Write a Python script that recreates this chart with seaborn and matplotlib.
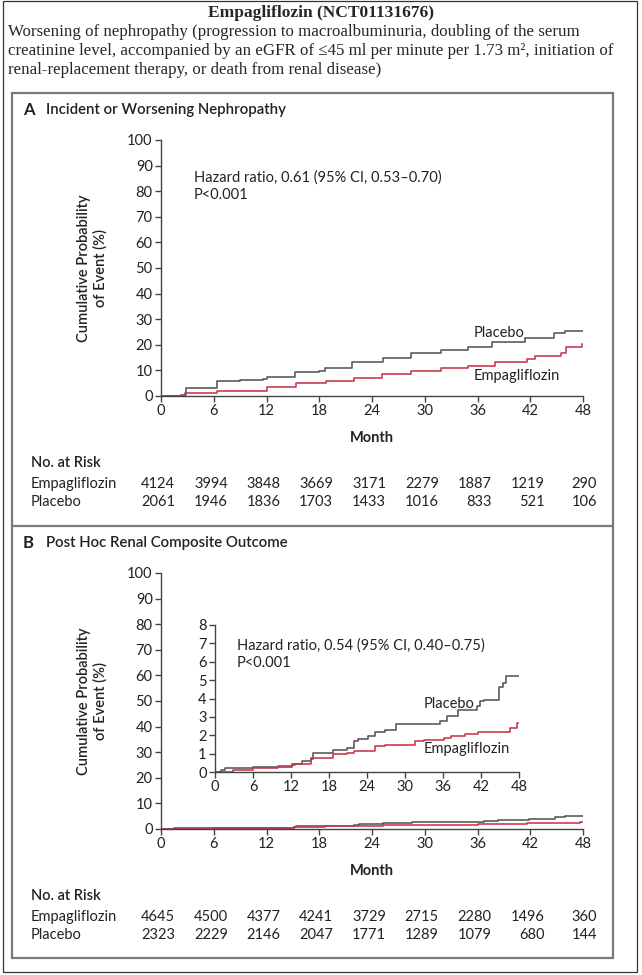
import numpy as np
import pandas as pd
import matplotlib
matplotlib.use("Agg")
import matplotlib.pyplot as plt
import seaborn as sns
from matplotlib.patches import Rectangle
from matplotlib.lines import Line2D

# ---- data ----
month_ticks = [0, 6, 12, 18, 24, 30, 36, 42, 48]

# panel A: incident or worsening nephropathy (step points, month -> %)
a_months_placebo = [0, 2.3, 2.9, 4.5, 6.4, 9.0, 11.6, 12.1, 15.2, 18.0, 18.6, 21.7,
                    25.3, 28.4, 31.8, 34.9, 37.7, 41.4, 44.7, 45.9, 48]
a_placebo = [0, 0.4, 3.0, 3.2, 6.0, 6.2, 6.6, 7.5, 9.2, 9.6, 11.0, 13.4,
             15.0, 16.7, 18.0, 19.3, 21.2, 22.5, 24.5, 25.5, 25.5]
a_months_empa = [0, 2.7, 6.4, 12.1, 15.4, 18.8, 21.9, 25.1, 28.4, 31.8, 34.9,
                 38.0, 41.6, 42.5, 45.5, 46.1, 47.9, 48]
a_empa = [0, 1.0, 2.0, 3.6, 5.0, 6.0, 7.2, 8.4, 9.8, 11.0, 11.8,
          13.2, 14.3, 15.6, 16.7, 19.3, 20.2, 20.2]

# panel B: post hoc renal composite outcome
b_months_placebo = [0, 0.9, 1.5, 6.0, 12.1, 13.7, 15.1, 15.4, 18.7, 20.8, 21.9, 22.5,
                    24.1, 25.2, 26.8, 28.5, 35.6, 36.7, 38.3, 41.3, 41.9, 42.4,
                    44.8, 45.4, 45.9, 48]
b_placebo = [0, 0.13, 0.2, 0.27, 0.45, 0.58, 0.76, 1.03, 1.21, 1.3, 1.67, 1.81,
             1.94, 2.15, 2.3, 2.6, 2.75, 3.06, 3.35, 3.57, 3.84, 3.93,
             4.6, 4.87, 5.25, 5.25]
b_months_empa = [0, 2.8, 6.0, 10.0, 12.1, 12.6, 15.1, 15.4, 18.7, 20.8, 21.9, 24.4,
                 25.2, 26.8, 31.5, 33.0, 36.1, 37.2, 39.4, 41.6, 46.5, 47.7, 48]
b_empa = [0, 0.09, 0.2, 0.3, 0.4, 0.45, 0.72, 0.76, 0.98, 1.03, 1.12, 1.16,
          1.39, 1.45, 1.67, 1.72, 1.83, 1.97, 2.08, 2.17, 2.39, 2.66, 2.66]

# numbers at risk
a_risk_empa = [4124, 3994, 3848, 3669, 3171, 2279, 1887, 1219, 290]
a_risk_placebo = [2061, 1946, 1836, 1703, 1433, 1016, 833, 521, 106]
b_risk_empa = [4645, 4500, 4377, 4241, 3729, 2715, 2280, 1496, 360]
b_risk_placebo = [2323, 2229, 2146, 2047, 1771, 1289, 1079, 680, 144]

colors = {"Empagliflozin": "#c8334b", "Placebo": "#555555"}

sns.set_theme(style="ticks")
plt.rcParams["font.family"] = ["Lato", "DejaVu Sans"]

W, H = 642, 975
fig = plt.figure(figsize=(W / 100, H / 100), dpi=100)
fig.patch.set_facecolor("white")


def fx(x):
    return x / W


def fy(y):
    return 1 - y / H


def px_axes(left, top, right, bottom):
    return fig.add_axes([fx(left), fy(bottom), (right - left) / W, (bottom - top) / H])


def long_df(mp, vp, me, ve):
    d1 = pd.DataFrame({"month": mp, "pct": vp, "group": "Placebo"})
    d2 = pd.DataFrame({"month": me, "pct": ve, "group": "Empagliflozin"})
    return pd.concat([d1, d2], ignore_index=True)


def style_axes(ax, ymax, ystep):
    ax.set_xlim(0, 48)
    ax.set_ylim(0, ymax)
    ax.set_xticks(month_ticks)
    ax.set_yticks(np.arange(0, ymax + 0.1, ystep))
    ax.set_facecolor("none")
    sns.despine(ax=ax)
    for s in ["left", "bottom"]:
        ax.spines[s].set_color("#444444")
        ax.spines[s].set_linewidth(1.0)
    ax.tick_params(direction="out", length=4, width=1.0, color="#444444",
                   labelsize=10.5, labelcolor="#222222", pad=2)
    ax.set_xlabel("")
    ax.set_ylabel("")


def draw_curves(ax, df):
    sns.lineplot(data=df, x="month", y="pct", hue="group", palette=colors,
                 estimator=None, drawstyle="steps-post", legend=False,
                 linewidth=1.15, ax=ax)


# ---- frames ----
fig.add_artist(Rectangle((fx(3), fy(972)), fx(637) - fx(3), fy(1) - fy(972),
                         transform=fig.transFigure, fill=False, ec="#333333", lw=0.9))
fig.add_artist(Rectangle((fx(12), fy(958)), fx(613) - fx(12), fy(93) - fy(958),
                         transform=fig.transFigure, fill=False, ec="#7a7a7a", lw=1.6))
fig.add_artist(Line2D([fx(12), fx(613)], [fy(526), fy(526)],
                      transform=fig.transFigure, color="#7a7a7a", lw=1.6))

# ---- header ----
serif = ["Liberation Serif", "DejaVu Serif"]
fig.text(fx(321), fy(13), "Empagliflozin (NCT01131676)", family=serif,
         fontsize=12.5, fontweight="bold", ha="center", va="center")
sub_lines = [
    "Worsening of nephropathy (progression to macroalbuminuria, doubling of the serum",
    "creatinine level, accompanied by an eGFR of \u226445 ml per minute per 1.73 m\u00b2, initiation of",
    "renal-replacement therapy, or death from renal disease)",
]
for i, line in enumerate(sub_lines):
    fig.text(fx(8), fy(32 + i * 19), line, family=serif, fontsize=12.2,
             ha="left", va="center")

# ---- panels ----
panels = [
    ("A", "Incident or Worsening Nephropathy", 0,
     long_df(a_months_placebo, a_placebo, a_months_empa, a_empa),
     a_risk_empa, a_risk_placebo),
    ("B", "Post Hoc Renal Composite Outcome", 433,
     long_df(b_months_placebo, b_placebo, b_months_empa, b_empa),
     b_risk_empa, b_risk_placebo),
]

for letter, title, off, df, risk_e, risk_p in panels:
    fig.text(fx(23), fy(110 + off), letter, fontsize=12, fontweight="bold",
             ha="left", va="center", color="#222222")
    fig.text(fx(46), fy(110 + off), title, fontsize=10.8, fontweight="semibold",
             ha="left", va="center", color="#222222")

    ax = px_axes(161, 140 + off, 583, 396 + off)
    draw_curves(ax, df)
    style_axes(ax, 100, 10)

    fig.text(fx(92), fy(268 + off), "Cumulative Probability\nof Event (%)",
             rotation=90, fontsize=10.5, fontweight="semibold", ha="center",
             va="center", multialignment="center", color="#222222")
    fig.text(fx(372), fy(438 + off), "Month", fontsize=10.5, fontweight="bold",
             ha="center", va="center", color="#222222")

    fig.text(fx(31), fy(463 + off), "No. at Risk", fontsize=10.5,
             fontweight="semibold", ha="left", va="center", color="#222222")
    for row_y, name, vals in [(484, "Empagliflozin", risk_e), (502, "Placebo", risk_p)]:
        fig.text(fx(31), fy(row_y + off), name, fontsize=10.5, ha="left",
                 va="center", color="#222222")
        for m, v in zip(month_ticks, vals):
            xp = 161 + m / 48 * (583 - 161) + 14
            fig.text(fx(xp), fy(row_y + off), str(v), fontsize=10.5, ha="right",
                     va="center", color="#222222")

    if letter == "A":
        ax.text(3.7, 81.8, "Hazard ratio, 0.61 (95% CI, 0.53\u20130.70)\nP<0.001",
                fontsize=10.5, ha="left", va="center", color="#222222",
                linespacing=1.3)
        ax.text(35.6, 24.5, "Placebo", fontsize=10.5, ha="left", va="center",
                color="#222222")
        ax.text(35.6, 7.9, "Empagliflozin", fontsize=10.5, ha="left", va="center",
                color="#222222")
    else:
        ins = px_axes(215, 625, 519, 772)
        draw_curves(ins, df)
        style_axes(ins, 8, 1)
        ins.text(3.4, 6.4, "Hazard ratio, 0.54 (95% CI, 0.40\u20130.75)\nP<0.001",
                 fontsize=10.5, ha="left", va="center", color="#222222",
                 linespacing=1.3)
        ins.text(33.0, 3.7, "Placebo", fontsize=10.5, ha="left", va="center",
                 color="#222222")
        ins.text(33.0, 1.25, "Empagliflozin", fontsize=10.5, ha="left",
                 va="center", color="#222222")

fig.savefig("out.png", dpi=100)
